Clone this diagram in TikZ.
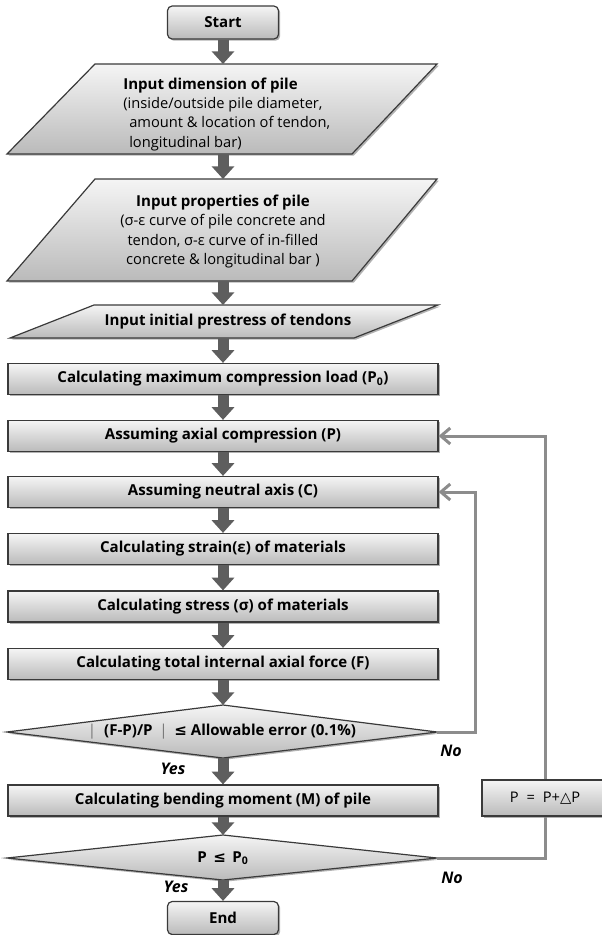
\documentclass[tikz,border=0pt]{standalone}
\usepackage{fontspec}
\setmainfont{Open Sans}
\newfontfamily\djv{DejaVu Sans}
\usetikzlibrary{arrows.meta,shadows}

\definecolor{edgecol}{HTML}{3A3A3A}
\definecolor{flowcol}{HTML}{5E5E5E}
\definecolor{loopcol}{HTML}{8C8C8C}

\newcommand\boldsize{\fontsize{11.3}{13.5}\selectfont\bfseries}

\tikzset{
  shapefill/.style={draw=edgecol, line width=0.9pt, top color=black!4, bottom color=black!27,
    drop shadow={shadow xshift=1.3pt, shadow yshift=-1.3pt, opacity=0.3, fill=black}},
  procbox/.style={shapefill, rectangle, minimum width=322.5pt, minimum height=23.25pt,
    inner sep=0pt, font=\boldsize},
  termbox/.style={shapefill, rectangle, rounded corners=3.5pt, minimum width=83.25pt,
    minimum height=24.75pt, inner sep=0pt, font=\boldsize},
  incrbox/.style={shapefill, rectangle, minimum width=94.5pt, minimum height=27pt,
    inner sep=0pt, font=\fontsize{11}{13}\selectfont},
  txtnode/.style={inner sep=0pt, font=\fontsize{11}{14.5}\selectfont},
  boldtext/.style={inner sep=0pt, font=\boldsize},
  flowarrow/.style={draw=flowcol, line width=8.25pt, -{Triangle[width=16.5pt,length=9.5pt]}},
  loopline/.style={draw=loopcol, line width=2.25pt},
  looparrow/.style={loopline, -{Straight Barb[length=7pt,width=12pt]}},
  answer/.style={inner sep=0pt, font=\fontsize{12}{14}\selectfont\bfseries\itshape},
}

\begin{document}
\begin{tikzpicture}[x=0.75pt, y=-0.75pt]
\useasboundingbox (0,0) rectangle (602,935);
\clip (0,0) rectangle (602,935);

% input parallelograms and decision diamonds
\path[shapefill] (95,64) -- (437,64) -- (352,154) -- (7,154) -- cycle;
\path[shapefill] (95,179) -- (437,179) -- (352,281) -- (7,281) -- cycle;
\path[shapefill] (94,305) -- (438,305) -- (354,338) -- (10,338) -- cycle;
\path[shapefill] (7,732) -- (223,705) -- (437,732) -- (223,758) -- cycle;
\path[shapefill] (7,858) -- (223,835) -- (437,858) -- (223,880) -- cycle;

\coordinate (p1top) at (223,64);
\coordinate (p1bot) at (223,154);
\coordinate (p2top) at (223,179);
\coordinate (p2bot) at (223,281);
\coordinate (p3top) at (223,305);
\coordinate (p3bot) at (223,338);
\coordinate (d1top) at (223,705);
\coordinate (d1bot) at (223,758);
\coordinate (d1right) at (437,732);
\coordinate (d2top) at (223,835);
\coordinate (d2bot) at (223,880);
\coordinate (d2right) at (437,858);

\node[txtnode, anchor=west, align=left] (dimtext) at (123,114)
  {{\boldsize Input dimension of pile}\\(inside/outside pile diameter,\\
   \hspace*{4.5pt}amount \& location of tendon,\\\hspace*{4.5pt}longitudinal bar)};
\node[txtnode, align=center] (proptext) at (223,231.5)
  {{\boldsize Input properties of pile}\\(σ-ε curve of pile concrete and\\
   tendon, σ-ε curve of in-filled\\concrete \& longitudinal bar )};
\node[boldtext] (pretext) at (228,322)
  {Input initial prestress of tendons};
\node[boldtext] (errtext) at (222,732)
  {{\mdseries\color{black!55}|}\hspace{6pt}(F-P)/P\hspace{5pt}{\mdseries\color{black!55}|}\hspace{5pt}{\djv ≤} Allowable error (0.1\%)};
\node[boldtext] (ptext) at (223,858)
  {P\, {\djv ≤}\, P\textsubscript{0}};

% boxes
\node[termbox] (start) at (223,22.5) {Start};
\node[procbox] (calcP0) at (223,379) {Calculating maximum compression load (P\textsubscript{0})};
\node[procbox] (axialP) at (223,436) {Assuming axial compression (P)};
\node[procbox] (neutral) at (223,492) {Assuming neutral axis (C)};
\node[procbox] (strain) at (223,549) {Calculating strain(ε) of materials};
\node[procbox] (stress) at (223,606.5) {Calculating stress (σ) of materials};
\node[procbox] (force) at (223,664) {Calculating total internal axial force (F)};
\node[procbox] (moment) at (223,800.5) {Calculating bending moment (M) of pile};
\node[termbox] (end) at (223,918) {End};
\node[incrbox] (pbox) at (545,798) {P\; =\; P+{\djv △}P};

% main flow arrows
\draw[flowarrow] (start.south) -- (p1top);
\draw[flowarrow] (p1bot) -- (p2top);
\draw[flowarrow] (p2bot) -- (p3top);
\draw[flowarrow] (p3bot) -- (calcP0.north);
\draw[flowarrow] (calcP0.south) -- (axialP.north);
\draw[flowarrow] (axialP.south) -- (neutral.north);
\draw[flowarrow] (neutral.south) -- (strain.north);
\draw[flowarrow] (strain.south) -- (stress.north);
\draw[flowarrow] (stress.south) -- (force.north);
\draw[flowarrow] (force.south) -- (d1top);
\draw[flowarrow] (d1bot) -- (moment.north);
\draw[flowarrow] (moment.south) -- (d2top);
\draw[flowarrow] (d2bot) -- (end.north);

% feedback loops
\draw[looparrow] (d1right) -- ++(38,0) |- (neutral.east);
\draw[loopline] (d2right) -| (pbox.south);
\draw[looparrow] (pbox.north) |- (axialP.east);

% labels
\node[answer] (no1) at (451,751) {No};
\node[answer] (no2) at (452,878) {No};
\node[answer] (yes1) at (173,769) {Yes};
\node[answer] (yes2) at (176,887) {Yes};
\end{tikzpicture}
\end{document}
